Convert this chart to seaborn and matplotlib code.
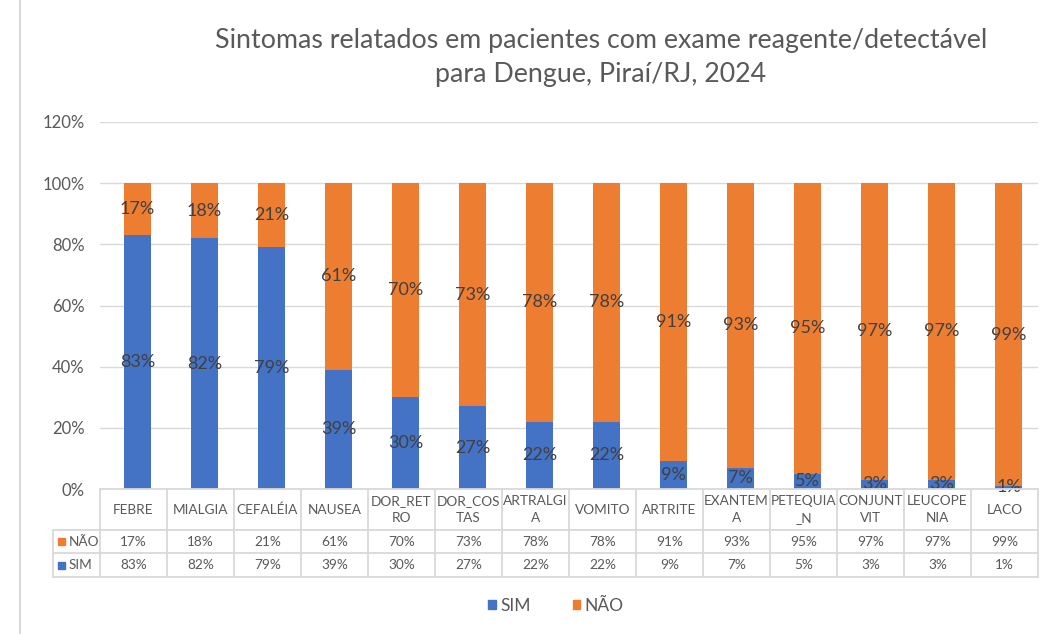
import matplotlib
matplotlib.use("Agg")
import matplotlib.pyplot as plt
from matplotlib.patches import Patch, Rectangle
from matplotlib.lines import Line2D
from matplotlib.transforms import blended_transform_factory
import seaborn as sns

# ---- data ----
categories = ["FEBRE", "MIALGIA", "CEFALÉIA", "NAUSEA", "DOR_RET\nRO", "DOR_COS\nTAS",
              "ARTRALGI\nA", "VOMITO", "ARTRITE", "EXANTEM\nA", "PETEQUIA\n_N",
              "CONJUNT\nVIT", "LEUCOPE\nNIA", "LACO"]
sim = [83, 82, 79, 39, 30, 27, 22, 22, 9, 7, 5, 3, 3, 1]
nao = [17, 18, 21, 61, 70, 73, 78, 78, 91, 93, 95, 97, 97, 99]
yticks = [0, 20, 40, 60, 80, 100, 120]
title = "Sintomas relatados em pacientes com exame reagente/detectável\npara Dengue, Piraí/RJ, 2024"

BLUE = "#4472C4"
ORANGE = "#ED7D31"
GRID = "#D9D9D9"
TXT = "#595959"
LBL = "#404040"

sns.set_theme(style="white")
plt.rcParams["font.family"] = ["Lato", "DejaVu Sans"]

W, H = 1048, 634
fig = plt.figure(figsize=(W / 100, H / 100), dpi=100)

def fx(x):
    return x / W

def fy(y):
    return 1 - y / H

left, right, top, bottom = 100, 1038, 122, 489
ax = fig.add_axes([fx(left), fy(bottom), fx(right - left), (bottom - top) / H])

total = [s + n for s, n in zip(sim, nao)]
idx = list(range(len(categories)))
sns.barplot(x=idx, y=total, color=ORANGE, saturation=1, width=0.4, ax=ax, zorder=2,
            linewidth=0, edgecolor=ORANGE)
sns.barplot(x=idx, y=sim, color=BLUE, saturation=1, width=0.4, ax=ax, zorder=3,
            linewidth=0, edgecolor=BLUE)
# bars in the reference sit slightly right of the column centres
for p in ax.patches:
    p.set_x(p.get_x() + 0.06)

ax.set_xlim(-0.5, len(categories) - 0.5)
ax.set_ylim(0, 120)
ax.set_yticks(yticks)
ax.set_yticklabels([f"{v}%" for v in yticks], color=TXT, fontsize=12)
ax.tick_params(axis="y", length=0, pad=11)
ax.set_xticks([])
ax.set_xlabel("")
ax.set_ylabel("")
ax.yaxis.grid(True, color=GRID, linewidth=1)
ax.set_axisbelow(True)
for s in ax.spines.values():
    s.set_visible(False)

# data labels
for i, (s, n) in enumerate(zip(sim, nao)):
    xc = i + 0.06
    ax.text(xc, s / 2, f"{s}%", ha="center", va="center", color=LBL, fontsize=13, zorder=5)
    ax.text(xc, s + n / 2, f"{n}%", ha="center", va="center", color=LBL, fontsize=13, zorder=5)

# ---- data table ----
tr = blended_transform_factory(ax.transData, fig.transFigure)
n_cat = len(categories)
row_y = [489, 530, 553, 577]
lab_left = 53
lkw = dict(color=GRID, linewidth=1.3, zorder=1)
fig.add_artist(Line2D([fx(left), fx(right)], [fy(row_y[0])] * 2, **lkw))
for yy in row_y[1:]:
    fig.add_artist(Line2D([fx(lab_left), fx(right)], [fy(yy)] * 2, **lkw))
for i in range(n_cat + 1):
    xd = i - 0.5
    ax.add_line(Line2D([xd, xd], [fy(row_y[0]), fy(row_y[3])], transform=tr,
                       clip_on=False, **lkw))
fig.add_artist(Line2D([fx(lab_left)] * 2, [fy(row_y[1]), fy(row_y[3])], **lkw))

for i, c in enumerate(categories):
    ax.text(i, fy((row_y[0] + row_y[1]) / 2), c, transform=tr, ha="center", va="center",
            color=TXT, fontsize=9.8, linespacing=1.5, clip_on=False)
    ax.text(i, fy((row_y[1] + row_y[2]) / 2), f"{nao[i]}%", transform=tr, ha="center",
            va="center", color=TXT, fontsize=9.8, clip_on=False)
    ax.text(i, fy((row_y[2] + row_y[3]) / 2), f"{sim[i]}%", transform=tr, ha="center",
            va="center", color=TXT, fontsize=9.8, clip_on=False)

for (lab, col, r) in [("NÃO", ORANGE, 1), ("SIM", BLUE, 2)]:
    yc = (row_y[r] + row_y[r + 1]) / 2
    fig.add_artist(Rectangle((fx(58), fy(yc + 3.5)), fx(7), 7 / H, color=col, zorder=2))
    fig.text(fx(69), fy(yc), lab, ha="left", va="center", color=TXT, fontsize=9.8)

# left chart border
fig.add_artist(Line2D([fx(20), fx(20)], [0, 1], color=GRID, linewidth=1.5))

# title
fig.text(fx(601), fy(57.5), title, ha="center", va="center", color=TXT, fontsize=19.3,
         linespacing=1.45)

# legend
handles = [Patch(color=BLUE, label="SIM"), Patch(color=ORANGE, label="NÃO")]
leg = fig.legend(handles=handles, loc="center", bbox_to_anchor=(fx(556), fy(606)), ncol=2,
                 frameon=False, fontsize=12.5, handlelength=0.45, handleheight=0.45,
                 handletextpad=0.25, columnspacing=2.4)
for t in leg.get_texts():
    t.set_color(TXT)

fig.savefig("out.png", dpi=100, facecolor="white")
